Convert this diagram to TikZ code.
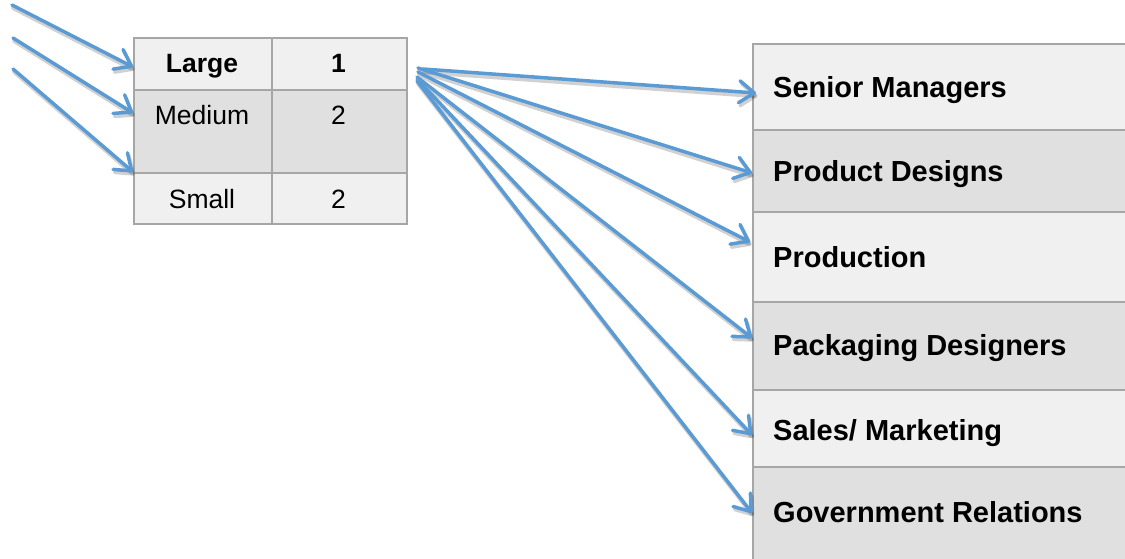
\documentclass[tikz,border=0pt]{standalone}
\usepackage{fontspec}
\setmainfont{Liberation Sans}
\usetikzlibrary{arrows.meta}
\definecolor{lightcell}{HTML}{F0F0F0}
\definecolor{darkcell}{HTML}{E0E0E0}
\definecolor{cellborder}{HTML}{A6A6A6}
\definecolor{arrowblue}{HTML}{5B9BD5}
\tikzset{
  cellbox/.style={draw=cellborder, line width=2pt, inner sep=0pt, anchor=north west},
  light/.style={fill=lightcell},
  darkc/.style={fill=darkcell},
  ltext/.style={inner sep=0pt, anchor=base, font=\fontsize{26.5}{30}\selectfont},
  ltextb/.style={ltext, font=\fontsize{26.5}{30}\selectfont\bfseries},
  rtext/.style={inner sep=0pt, anchor=base west, font=\fontsize{29}{34}\selectfont\bfseries},
  flowhead/.style={-{Straight Barb[length=15pt,width=22pt,line width=3.5pt,round]}},
  flow/.style={draw=arrowblue, line width=3.5pt, line cap=round, flowhead},
  flowshadow/.style={draw=black, draw opacity=0.18, line width=4.5pt, line cap=round, flowhead,
    transform canvas={shift={(1.5pt,-3pt)}}}
}
\newcommand\myflow[2]{\draw[flowshadow] (#1) -- (#2); \draw[flow] (#1) -- (#2);}
\begin{document}
\begin{tikzpicture}[x=1pt,y=-1pt]
\useasboundingbox (0,0) rectangle (1125,559);
\clip (0,0) rectangle (1125,559);
% left table
\node[cellbox, light, minimum width=138pt, minimum height=52pt] (large) at (133,37) {};
\node[cellbox, light, minimum width=135pt, minimum height=52pt] (one) at (271,37) {};
\node[cellbox, darkc, minimum width=138pt, minimum height=83pt] (medium) at (133,89) {};
\node[cellbox, darkc, minimum width=135pt, minimum height=83pt] (two) at (271,89) {};
\node[cellbox, light, minimum width=138pt, minimum height=51pt] (small) at (133,172) {};
\node[cellbox, light, minimum width=135pt, minimum height=51pt] (twob) at (271,172) {};
\node[ltextb] (largetext) at (202,73) {Large};
\node[ltextb] (onetext) at (338.5,73) {1};
\node[ltext] (mediumtext) at (202,125) {Medium};
\node[ltext] (twotext) at (338.5,125) {2};
\node[ltext] (smalltext) at (202,208) {Small};
\node[ltext] (twobtext) at (338.5,208) {2};
% right table
\node[cellbox, light, minimum width=383pt, minimum height=86pt] (sm) at (752,43) {};
\node[cellbox, darkc, minimum width=383pt, minimum height=82pt] (pd) at (752,129) {};
\node[cellbox, light, minimum width=383pt, minimum height=90pt] (pr) at (752,211) {};
\node[cellbox, darkc, minimum width=383pt, minimum height=88pt] (pk) at (752,301) {};
\node[cellbox, light, minimum width=383pt, minimum height=77pt] (sa) at (752,389) {};
\node[cellbox, darkc, minimum width=383pt, minimum height=94pt] (gr) at (752,466) {};
\node[rtext] (smtext) at (773,98) {Senior Managers};
\node[rtext] (pdtext) at (773,181.5) {Product Designs};
\node[rtext] (prtext) at (773,267) {Production};
\node[rtext] (pktext) at (773,355) {Packaging Designers};
\node[rtext] (satext) at (773,440) {Sales/ Marketing};
\node[rtext] (grtext) at (773,522) {Government Relations};
% incoming arrows
\coordinate (in1) at (12,5);
\coordinate (in2) at (13,38);
\coordinate (in3) at (13,69);
\myflow{in1}{[yshift=-30pt]large.north west}
\myflow{in2}{[yshift=-24pt]medium.north west}
\myflow{in3}{small.north west}
% fan arrows
\coordinate (o1) at (423,69);
\coordinate (o2) at (418,68);
\coordinate (o3) at (418,72);
\coordinate (o4) at (417,77);
\coordinate (o5) at (417,79);
\coordinate (o6) at (417,81);
\myflow{o1}{[xshift=4pt,yshift=-50pt]sm.north west}
\myflow{o2}{[yshift=-44pt]pd.north west}
\myflow{o3}{[xshift=-2pt,yshift=-31pt]pr.north west}
\myflow{o4}{[yshift=-37pt]pk.north west}
\myflow{o5}{[yshift=-46pt]sa.north west}
\myflow{o6}{[yshift=-47pt]gr.north west}
\end{tikzpicture}
\end{document}
